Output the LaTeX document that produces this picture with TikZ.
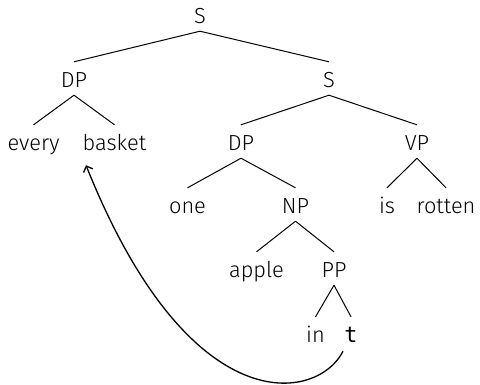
\documentclass[tikz,border=0pt]{standalone}
\usepackage{fontspec}
\usetikzlibrary{arrows.meta}
\setmainfont{Fira Sans Light}
\newfontfamily\tmono{DejaVu Sans Mono}
\begin{document}
\begin{tikzpicture}[x=1pt,y=-1pt,
  lab/.style={inner sep=0pt,text height=25pt,text depth=8pt,font=\fontsize{21.8}{24}\selectfont},
  edge/.style={line width=1pt},
  move/.style={line width=1.3pt,-{Straight Barb[length=5pt,width=10pt]}}]
\useasboundingbox (0,0) rectangle (480,384);
\node[lab,anchor=base] (S)  at (200,23) {S};
\node[lab,anchor=base] (DPa) at (74,87) {DP};
\node[lab,anchor=base] (S2) at (329,87) {S};
\node[lab,anchor=base] (every) at (33.5,150) {every};
\node[lab,anchor=base] (basket) at (114.5,150) {basket};
\node[lab,anchor=base] (DPb) at (241,150) {DP};
\node[lab,anchor=base] (VP) at (417,150) {VP};
\node[lab,anchor=base] (one) at (187.5,213) {one};
\node[lab,anchor=base] (NP) at (295.5,213) {NP};
\node[lab,anchor=base] (is) at (387,213) {is};
\node[lab,anchor=base] (rotten) at (446,213) {rotten};
\node[lab,anchor=base] (apple) at (256.5,277) {apple};
\node[lab,anchor=base] (PP) at (334,277) {PP};
\node[lab,anchor=base] (in) at (315.5,342) {in};
\node[lab,anchor=base] (t) at (351,342) {\tmono t};
\foreach \p/\c in {S/DPa,S/S2,DPa/every,DPa/basket,S2/DPb,S2/VP,DPb/one,DPb/NP,VP/is,VP/rotten,NP/apple,NP/PP,PP/in,PP/t}
  \draw[edge] (\p.south) -- (\c.north);
\coordinate (tstart) at ([xshift=-8pt,yshift=-1pt]t.south);
\coordinate (bend) at ([xshift=-28.5pt,yshift=-7pt]basket.south);
\draw[move] (tstart) .. controls +(-25,50) and +(104,260) .. (bend);
\end{tikzpicture}
\end{document}
